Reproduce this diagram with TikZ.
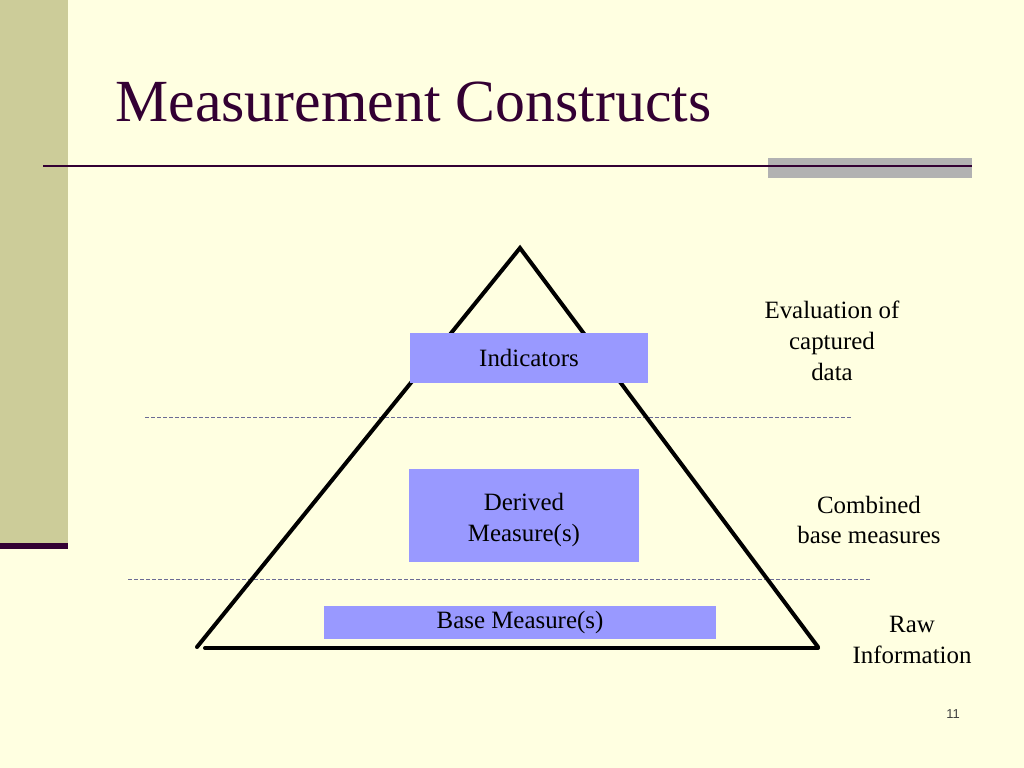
\documentclass[tikz,border=0pt]{standalone}
\usepackage{fontspec}
\setmainfont{Liberation Serif}
\newfontfamily\numfont{Liberation Sans}
\usepackage{xcolor}
\usepackage{tikz}
\usetikzlibrary{arrows.meta, positioning}

\definecolor{slidebg}{HTML}{FFFFE1}
\definecolor{olivebar}{HTML}{CCCC99}
\definecolor{plum}{HTML}{330033}
\definecolor{greybar}{HTML}{B2B2B2}
\definecolor{boxblue}{HTML}{9999FF}
\definecolor{dashblue}{HTML}{6B6B95}

\begin{document}
\begin{tikzpicture}[
    x=1bp, y=-1bp,
    level/.style={rectangle, fill=boxblue, inner sep=0pt, align=center, font=\fontsize{25}{31}\selectfont},
    note/.style={align=center, font=\fontsize{25}{31}\selectfont},
    divider/.style={draw=dashblue, line width=0.9bp, dash pattern=on 4bp off 2bp},
    pyramid/.style={line width=4bp, line cap=round}
]

% slide background
\fill[slidebg] (0,0) rectangle (1024,768);
\useasboundingbox (0,0) rectangle (1024,768);
\fill[olivebar] (0,0) rectangle (68,545);
\fill[plum] (0,543) rectangle (68,549);
\fill[greybar] (768,158) rectangle (972,178);
\draw[plum, line width=2.5bp] (43,166) -- (972,166);

\node[anchor=base west, text=plum, font=\fontsize{60}{70}\selectfont] (title) at (112,121) {Measurement Constructs};

% levels
\coordinate (top) at (520,248);
\coordinate (left) at (197,647);
\coordinate (right) at (818,647);
\coordinate (baseL) at (205,648);
\coordinate (baseR) at (818,648);

\draw[divider] (145,417) coordinate (d1a) -- (852,417) coordinate (d1b);
\draw[divider] (128,579) coordinate (d2a) -- (870,579) coordinate (d2b);

\draw[pyramid] (left) -- (top) -- (right);
\draw[pyramid] (baseL) -- (baseR);

\node[level, minimum width=238bp, minimum height=50bp] (ind) at (529,358) {Indicators};
\node[level, minimum width=230bp, minimum height=93bp] (der) at (524,515.5) {};
\node[note] (dertxt) at (524,520) {Derived\\ Measure(s)};
\node[level, minimum width=392bp, minimum height=33bp] (bas) at (520,622.5) {Base Measure(s)};

\node[note] (eval) at (832,341) {Evaluation of\\ captured\\ data};
\node[note] (comb) at (869,520) {Combined\\ base measures};
\node[note] (raw) at (912,640) {Raw\\ Information};

\node[font=\numfont\fontsize{13}{15}\selectfont, text=black!75] (num) at (953,714) {11};

\end{tikzpicture}
\end{document}
